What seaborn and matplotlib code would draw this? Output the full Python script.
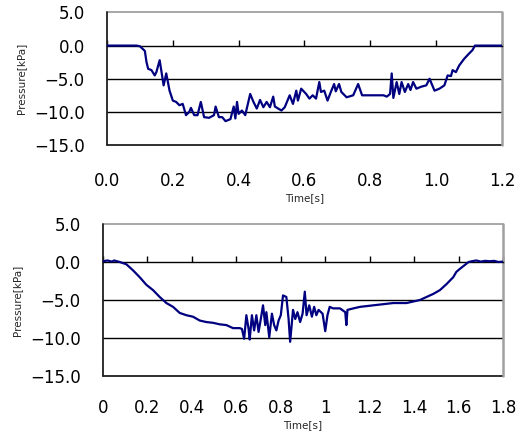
import matplotlib
matplotlib.use("Agg")
import matplotlib.pyplot as plt
import seaborn as sns
import pandas as pd

# ---------------- data ----------------
top_time = [0.00, 0.05, 0.09, 0.10, 0.115, 0.12, 0.125, 0.135, 0.145, 0.15, 0.16, 0.172, 0.18,
            0.19, 0.20, 0.21, 0.22, 0.23, 0.24, 0.25, 0.255, 0.265, 0.275, 0.285, 0.295, 0.31,
            0.325, 0.33, 0.34, 0.35, 0.36, 0.375, 0.385, 0.39, 0.395, 0.40, 0.41, 0.42, 0.435,
            0.445, 0.455, 0.465, 0.475, 0.485, 0.495, 0.505, 0.51, 0.53, 0.54, 0.555, 0.565,
            0.575, 0.58, 0.59, 0.605, 0.615, 0.625, 0.635, 0.645, 0.65, 0.66, 0.67, 0.68, 0.69,
            0.695, 0.705, 0.712, 0.728, 0.748, 0.763, 0.775, 0.84, 0.85, 0.86, 0.865, 0.87,
            0.88, 0.888, 0.895, 0.905, 0.915, 0.922, 0.93, 0.94, 0.955, 0.97, 0.98, 0.995,
            1.01, 1.025, 1.035, 1.045, 1.05, 1.06, 1.07, 1.085, 1.10, 1.11, 1.118, 1.15, 1.20]
top_pressure = [0.0, 0.0, 0.0, -0.1, -0.8, -2.5, -3.5, -3.7, -4.5, -4.0, -2.2, -6.0, -4.2,
                -6.8, -8.3, -8.5, -9.0, -8.8, -10.5, -10.0, -9.4, -10.5, -10.5, -8.5, -10.8, -10.9,
                -10.5, -9.2, -10.8, -10.8, -11.4, -11.1, -9.2, -11.0, -8.5, -10.3, -9.8, -10.5, -7.3,
                -8.5, -9.5, -8.2, -9.3, -8.5, -9.3, -7.7, -9.2, -9.8, -9.3, -7.5, -8.8,
                -6.8, -8.3, -6.5, -7.3, -8.0, -7.5, -8.0, -5.5, -7.0, -6.8, -8.3, -7.0, -5.8,
                -6.9, -5.8, -7.0, -7.8, -7.5, -5.8, -7.5, -7.5, -7.7, -7.3, -4.2, -7.9,
                -5.5, -7.3, -5.5, -7.0, -5.8, -6.7, -5.5, -6.5, -6.2, -6.0, -5.0, -6.8,
                -6.5, -6.0, -4.5, -4.6, -3.7, -4.0, -3.0, -2.0, -1.2, -0.7, 0.0, 0.0, 0.0]

bottom_time = [0.00, 0.02, 0.04, 0.05, 0.075, 0.105, 0.135, 0.165, 0.195, 0.225, 0.255, 0.285,
               0.315, 0.345, 0.375, 0.405, 0.435, 0.465, 0.495, 0.525, 0.555, 0.585, 0.615,
               0.625, 0.635, 0.645, 0.655, 0.66, 0.67, 0.68, 0.69, 0.70, 0.71, 0.72, 0.73,
               0.735, 0.748, 0.76, 0.77, 0.78, 0.79, 0.80, 0.81, 0.825, 0.835, 0.842, 0.855,
               0.865, 0.875, 0.887, 0.898, 0.908, 0.916, 0.928, 0.94, 0.95, 0.96, 0.97, 0.988,
               1.00, 1.01, 1.02, 1.035, 1.066, 1.09, 1.095, 1.10, 1.127, 1.157, 1.187, 1.216,
               1.246, 1.276, 1.306, 1.336, 1.366, 1.396, 1.426, 1.456, 1.486, 1.516, 1.546,
               1.576, 1.59, 1.606, 1.63, 1.645, 1.66, 1.68, 1.70, 1.72, 1.74, 1.76, 1.78, 1.80]
bottom_pressure = [0.1, 0.2, 0.05, 0.2, 0.0, -0.3, -1.1, -2.0, -3.0, -3.7, -4.6, -5.4,
                   -5.9, -6.7, -7.0, -7.2, -7.7, -7.9, -8.0, -8.2, -8.3, -8.7, -8.7,
                   -8.8, -10.1, -7.0, -8.8, -10.2, -7.0, -9.0, -7.0, -9.2, -7.5, -5.7, -8.3,
                   -6.6, -9.9, -6.8, -8.3, -9.0, -7.7, -7.0, -4.4, -4.6, -7.5, -10.5, -6.3,
                   -7.5, -6.6, -7.9, -6.8, -3.9, -7.0, -5.7, -7.2, -5.9, -7.0, -6.3, -6.8,
                   -9.1, -7.0, -5.9, -6.1, -6.1, -6.6, -8.3, -6.3, -6.1, -5.9, -5.8, -5.7,
                   -5.6, -5.5, -5.4, -5.4, -5.4, -5.2, -5.0, -4.6, -4.2, -3.7, -2.9,
                   -2.0, -1.3, -0.9, -0.35, 0.0, 0.1, 0.2, 0.05, 0.15, 0.1, 0.15, 0.0, 0.05]

top_xticks = [0.0, 0.2, 0.4, 0.6, 0.8, 1.0, 1.2]
top_xticklabels = ["0.0", "0.2", "0.4", "0.6", "0.8", "1.0", "1.2"]
bottom_xticks = [0.0, 0.2, 0.4, 0.6, 0.8, 1.0, 1.2, 1.4, 1.6, 1.8]
bottom_xticklabels = ["0", "0.2", "0.4", "0.6", "0.8", "1", "1.2", "1.4", "1.6", "1.8"]
yticks = [5.0, 0.0, -5.0, -10.0, -15.0]
yticklabels = ["5.0", "0.0", "\u22125.0", "\u221210.0", "\u221215.0"]
grid_levels = [-5.0, -10.0]
x_label = "Time[s]"
y_label = "Pressure[kPa]"

# ---------------- style ----------------
sns.set_style("white")
plt.rcParams["font.family"] = ["DejaVu Sans"]

LINE_COLOR = "#000080"
FRAME_GRAY = "#a0a0a0"
fig = plt.figure(figsize=(5.23, 4.32), dpi=100)
ax_top = fig.add_axes([0.2046, 0.6644, 0.7552, 0.3067])
ax_bot = fig.add_axes([0.197, 0.1296, 0.7648, 0.3519])


def style_axis(ax, t, p, xticks, xticklabels, xmax, xpad, xlabel_pad):
    df = pd.DataFrame({"Time": t, "Pressure": p})
    sns.lineplot(data=df, x="Time", y="Pressure", ax=ax, color=LINE_COLOR,
                 linewidth=1.6, estimator=None, sort=False, zorder=3)
    ymin, ymax = -15.0, 5.0
    ax.set_xlim(0, xmax)
    ax.set_ylim(ymin, ymax)
    ax.set_xticks(xticks)
    ax.set_xticklabels(xticklabels)
    ax.set_yticks(yticks)
    ax.set_yticklabels(yticklabels)
    # x ticks: marks on the zero line (top spine moved there), labels at the bottom
    ax.spines["top"].set_position(("data", 0.0))
    ax.spines["top"].set_color("black")
    ax.spines["top"].set_linewidth(1.0)
    ax.spines["top"].set_zorder(1)
    ax.tick_params(axis="x", which="major", top=True, bottom=False, labeltop=False,
                   labelbottom=True, direction="out", length=4, width=1.0,
                   color="black", pad=xpad, labelsize=12, labelcolor="black")
    ax.tick_params(axis="y", length=0, pad=16, labelsize=12, labelcolor="black")
    for lvl in grid_levels:
        ax.axhline(lvl, color="black", linewidth=1.0, zorder=1)
    # outer frame
    ax.axhline(ymax, color=FRAME_GRAY, linewidth=1.3, zorder=1, clip_on=False)
    ax.axhline(ymin, color="#202020", linewidth=1.3, zorder=1, clip_on=False)
    ax.axvline(0, color="#202020", linewidth=1.3, zorder=1, clip_on=False)
    ax.axvline(xmax, color=FRAME_GRAY, linewidth=1.8, zorder=1, clip_on=False)
    for side in ("left", "bottom", "right"):
        ax.spines[side].set_visible(False)
    ax.set_xlabel(x_label, fontsize=7.5, labelpad=xlabel_pad)
    ax.set_ylabel(y_label, fontsize=7.5, labelpad=6)


style_axis(ax_top, top_time, top_pressure, top_xticks, top_xticklabels, 1.2, 15.7, 2)
style_axis(ax_bot, bottom_time, bottom_pressure, bottom_xticks, bottom_xticklabels, 1.8, 12.4, 2.5)

fig.savefig("out.png", dpi=100)
